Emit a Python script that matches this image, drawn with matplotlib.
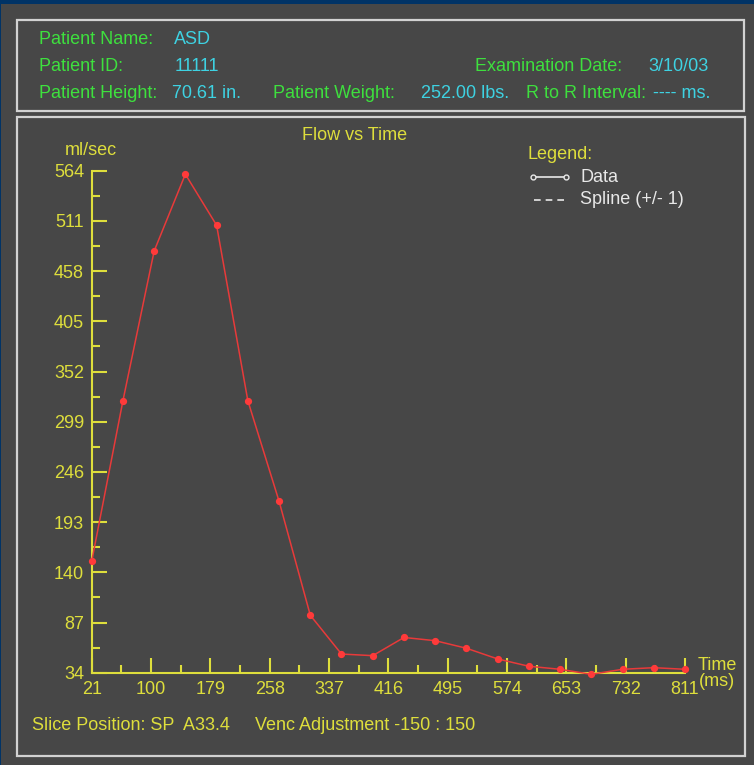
import matplotlib
matplotlib.use("Agg")
import matplotlib.pyplot as plt
from matplotlib.patches import Rectangle
from matplotlib.lines import Line2D
from matplotlib.ticker import FixedLocator

# ---- data ----
time_ms = [21, 62.6, 104.2, 145.7, 187.3, 228.9, 270.5, 312.1, 353.6, 395.2,
           436.8, 478.4, 520.0, 561.6, 603.1, 644.7, 686.3, 727.9, 769.5, 811]
flow = [151.6, 321.2, 479.3, 560.3, 506.4, 321.2, 215.0, 94.6, 53.7, 52.0,
        71.2, 67.8, 59.8, 48.5, 40.8, 37.6, 32.3, 37.6, 39.3, 37.6]
x_ticks = [21, 100, 179, 258, 337, 416, 495, 574, 653, 732, 811]
y_ticks = [34, 87, 140, 193, 246, 299, 352, 405, 458, 511, 564]

header_labels = ["Patient Name:", "Patient ID:", "Patient Height:", "Patient Weight:",
                 "Examination Date:", "R to R Interval:"]
header_values = ["ASD", "11111", "70.61 in.", "252.00 lbs.", "3/10/03", "---- ms."]

W, H = 754, 765
DPI = 100
BG = "#474747"
YEL = "#dede3c"
GREEN = "#3ee03e"
CYAN = "#3ed2e2"
RED = "#e83a3a"
FONT = "Liberation Sans"
FS = 13

plt.rcParams['font.family'] = [FONT, 'DejaVu Sans']

fig = plt.figure(figsize=(W / DPI, H / DPI), dpi=DPI)
fig.patch.set_facecolor("#003366")


def fx(px):
    return px / W


def fy(py):
    return 1 - py / H


# grey panel
fig.patches.append(Rectangle((fx(1), 0), 1 - fx(1), fy(4), transform=fig.transFigure,
                             facecolor=BG, edgecolor="none", zorder=-2))
# header box
fig.patches.append(Rectangle((fx(17), fy(110.5)), fx(744) - fx(17), fy(20) - fy(110.5),
                             transform=fig.transFigure, facecolor="none",
                             edgecolor="#d2d2d2", lw=1.6, zorder=-1))
# chart box
fig.patches.append(Rectangle((fx(17), fy(755.5)), fx(745) - fx(17), fy(117) - fy(755.5),
                             transform=fig.transFigure, facecolor="none",
                             edgecolor="#d2d2d2", lw=1.6, zorder=-1))


def txt(x, y, s, color, ha="left"):
    fig.text(fx(x), fy(y), s, color=color, fontsize=FS, ha=ha, va="center",
             fontfamily=[FONT, 'DejaVu Sans'])


# header text
txt(39, 39.5, header_labels[0], GREEN)
txt(174, 39.5, header_values[0], CYAN)
txt(39, 66.5, header_labels[1], GREEN)
txt(175, 66.5, header_values[1], CYAN)
txt(475, 66.5, header_labels[4], GREEN)
txt(648, 66.5, header_values[4], CYAN)
txt(39, 93.5, header_labels[2], GREEN)
txt(172, 93.5, header_values[2], CYAN)
txt(273, 93.5, header_labels[3], GREEN)
txt(421, 93.5, header_values[3], CYAN)
txt(526, 93.5, header_labels[5], GREEN)
txt(653, 93.5, header_values[5], CYAN)

# axes
left, right, top, bottom = 91.7, 685.0, 170.7, 672.7
ax = fig.add_axes([fx(left), fy(bottom), fx(right) - fx(left), fy(top) - fy(bottom)], zorder=5)
ax.set_facecolor("none")
ax.set_xlim(x_ticks[0], x_ticks[-1])
ax.set_ylim(y_ticks[0], y_ticks[-1])
for s in ["top", "right"]:
    ax.spines[s].set_visible(False)
for s in ["left", "bottom"]:
    ax.spines[s].set_color(YEL)
    ax.spines[s].set_linewidth(1.5)

ax.xaxis.set_major_locator(FixedLocator(x_ticks))
ax.yaxis.set_major_locator(FixedLocator(y_ticks))
ax.xaxis.set_minor_locator(FixedLocator([(a + b) / 2 for a, b in zip(x_ticks[:-1], x_ticks[1:])]))
ax.yaxis.set_minor_locator(FixedLocator([(a + b) / 2 for a, b in zip(y_ticks[:-1], y_ticks[1:])]))
ax.set_xticklabels([str(v) for v in x_ticks])
ax.set_yticklabels([str(v) for v in y_ticks])
ax.tick_params(which="major", direction="in", length=11, width=1.5, color=YEL,
               labelcolor=YEL, labelsize=FS)
ax.tick_params(which="minor", direction="in", length=5.6, width=1.5, color=YEL)
ax.tick_params(axis="y", which="major", pad=5.5)
ax.tick_params(axis="x", which="major", pad=6)
for lab in ax.get_xticklabels() + ax.get_yticklabels():
    lab.set_fontfamily([FONT, 'DejaVu Sans'])

ax.plot(time_ms, flow, color=RED, lw=1.1, marker="o", markersize=4.2,
        markerfacecolor="#ff3a3a", markeredgecolor="#ff3a3a", clip_on=False, zorder=5)

# chart texts
txt(355, 135.7, "Flow vs Time", YEL, ha="center")
txt(65, 150.7, "ml/sec", YEL)
txt(698, 665, "Time", YEL)
txt(699, 682, "(ms)", YEL)
txt(31.7, 726, "Slice Position: SP  A33.4", YEL)
txt(255, 726, "Venc Adjustment -150 : 150", YEL)

# legend
txt(527.7, 154.3, "Legend:", YEL)
txt(580, 177.3, "Data", "#e8e8e8")
txt(580, 200, "Spline (+/- 1)", "#e8e8e8")
fig.lines.append(Line2D([fx(533), fx(566)], [fy(177.3), fy(177.3)], transform=fig.transFigure,
                        color="#e8e8e8", lw=1.2, marker="o", markersize=3.5,
                        markerfacecolor=BG, markeredgecolor="#e8e8e8", markeredgewidth=1))
fig.lines.append(Line2D([fx(534), fx(564)], [fy(200), fy(200)], transform=fig.transFigure,
                        color="#e8e8e8", lw=1.2, linestyle=(0, (4, 3))))

fig.savefig("out.png", dpi=DPI, facecolor=fig.get_facecolor())
